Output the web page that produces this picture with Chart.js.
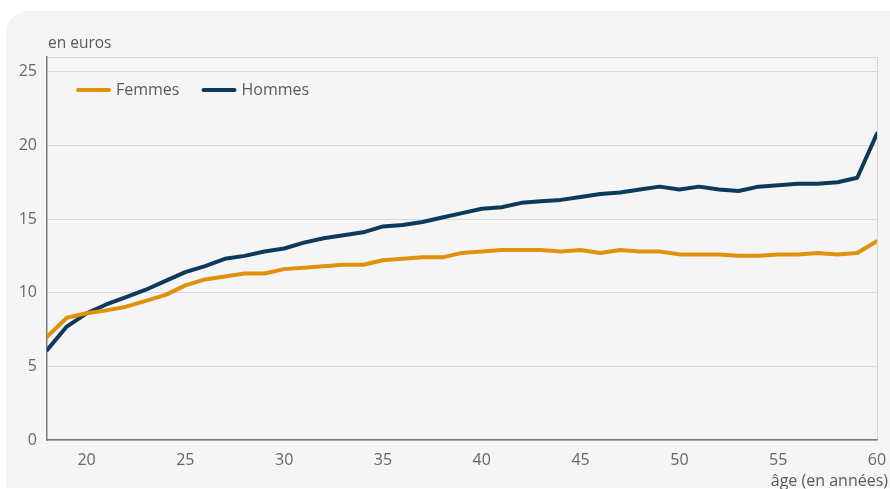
<!DOCTYPE html>
<html>
<head>
<meta charset="utf-8">
<script src="https://cdn.jsdelivr.net/npm/chart.js@4.4.1/dist/chart.umd.min.js"></script>
<style>
  html, body { margin: 0; padding: 0; background: #fff; }
  #wrap { position: relative; width: 890px; height: 489px; overflow: hidden; font-family: "Open Sans", sans-serif; }
  #card { position: absolute; left: 6px; top: 11px; width: 900px; height: 477px; background: #f5f5f5; border-top-left-radius: 22px; }
  canvas { position: absolute; left: 0; top: 0; }
  .lbl { position: absolute; color: #5a5a5a; font-size: 15.5px; white-space: nowrap; }
</style>
</head>
<body>
<div id="wrap">
  <div id="card"></div>
  <canvas id="chart" width="890" height="489"></canvas>
  <div class="lbl" style="left:48px; top:31px;">en euros</div>
  <div class="lbl" style="right:2px; top:469px; font-size:16px;">âge (en années)</div>
</div>
<script>
// Data
const ages = [18,19,20,21,22,23,24,25,26,27,28,29,30,31,32,33,34,35,36,37,38,39,40,
              41,42,43,44,45,46,47,48,49,50,51,52,53,54,55,56,57,58,59,60];
const femmes = [7.0,8.3,8.6,8.8,9.05,9.45,9.85,10.5,10.9,11.1,11.3,11.3,11.6,11.7,11.8,11.9,11.9,12.2,12.3,12.4,12.4,12.7,12.8,
                12.9,12.9,12.9,12.8,12.9,12.7,12.9,12.8,12.8,12.6,12.6,12.6,12.5,12.5,12.6,12.6,12.7,12.6,12.7,13.5];
const hommes = [6.1,7.7,8.6,9.2,9.7,10.2,10.8,11.4,11.8,12.3,12.5,12.8,13.0,13.4,13.7,13.9,14.1,14.5,14.6,14.8,15.1,15.4,15.7,
                15.8,16.1,16.2,16.3,16.5,16.7,16.8,17.0,17.2,17.0,17.2,17.0,16.9,17.2,17.3,17.4,17.4,17.5,17.8,20.8];
const seriesNames = ['Femmes', 'Hommes'];
const seriesColors = ['#e0900b', '#0d3a5a'];
const yTicks = [0, 5, 10, 15, 20, 25];
const xTicks = [20, 25, 30, 35, 40, 45, 50, 55, 60];

const toPoints = vals => ages.map((a, i) => ({ x: a, y: vals[i] }));

// legend drawn inside the plot area
const innerLegend = {
  id: 'innerLegend',
  afterDraw(chart) {
    const ctx = chart.ctx;
    ctx.save();
    ctx.font = '16px "Open Sans"';
    ctx.textBaseline = 'middle';
    let x = 78;
    const y = 90;
    chart.data.datasets.forEach(ds => {
      ctx.strokeStyle = ds.borderColor;
      ctx.lineWidth = 4;
      ctx.lineCap = 'round';
      ctx.beginPath();
      ctx.moveTo(x, y);
      ctx.lineTo(x + 31, y);
      ctx.stroke();
      ctx.fillStyle = '#5a5a5a';
      ctx.fillText(ds.label, x + 38, y);
      x += 38 + ctx.measureText(ds.label).width + 24;
    });
    ctx.restore();
  }
};

new Chart(document.getElementById('chart'), {
  type: 'line',
  data: {
    datasets: [
      { label: seriesNames[0], data: toPoints(femmes), borderColor: seriesColors[0] },
      { label: seriesNames[1], data: toPoints(hommes), borderColor: seriesColors[1] }
    ]
  },
  options: {
    responsive: false,
    animation: false,
    layout: { padding: { left: 0, top: 57, right: 13, bottom: 0 } },
    elements: {
      line: { borderWidth: 4, tension: 0, borderJoinStyle: 'round', borderCapStyle: 'round' },
      point: { radius: 0 }
    },
    plugins: { legend: { display: false }, tooltip: { enabled: false } },
    scales: {
      x: {
        type: 'linear',
        min: 18, max: 60,
        afterBuildTicks: s => { s.ticks = [18, ...xTicks].map(v => ({ value: v })); },
        afterFit: s => { s.height = 49; s.paddingRight = 0; s.paddingLeft = 0; },
        ticks: {
          padding: 11,
          color: '#666',
          font: { family: 'Open Sans', size: 16 },
          callback: v => xTicks.includes(v) ? v : ''
        },
        grid: {
          drawTicks: false,
          color: c => c.tick && c.tick.value === 60 ? '#d6d6d6' : 'transparent'
        },
        border: { color: '#7a7a7a', width: 1.5 }
      },
      y: {
        min: 0, max: 26,
        afterBuildTicks: s => { s.ticks = [...yTicks, 26].map(v => ({ value: v })); },
        afterFit: s => { s.width = 47; s.paddingTop = 0; s.paddingBottom = 0; },
        ticks: {
          padding: 10,
          color: '#666',
          font: { family: 'Open Sans', size: 16 },
          callback: v => yTicks.includes(v) ? v : ''
        },
        grid: { drawTicks: false, color: '#dadada', lineWidth: 1 },
        border: { color: '#7a7a7a', width: 1.5 }
      }
    }
  },
  plugins: [innerLegend]
});
</script>
</body>
</html>
